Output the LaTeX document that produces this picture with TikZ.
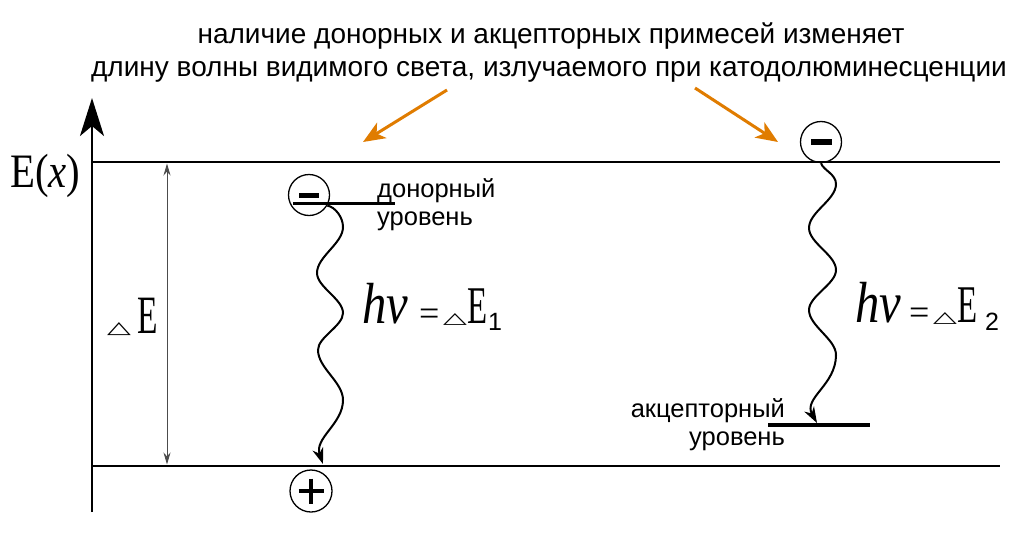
\documentclass[tikz,border=0pt]{standalone}
\usepackage{fontspec}
\usepackage{graphicx}
\newfontfamily\sans{Liberation Sans}
\newfontfamily\ser{Liberation Serif}
\newfontfamily\dv{DejaVu Sans}
\usetikzlibrary{arrows.meta,calc}
\definecolor{orng}{RGB}{224,124,0}
\begin{document}
\begin{tikzpicture}[x=1pt,y=-1pt,
  lvl/.style={line width=2.6pt},
  txt/.style={inner sep=0pt, font=\sans\fontsize{25.5}{25.5}\selectfont},
  ttl/.style={inner sep=0pt, font=\sans\fontsize{28}{28}\selectfont},
  chg/.style={circle, draw, line width=1.3pt, minimum size=41pt, inner sep=0pt},
  wave/.style={line width=2pt, -{Stealth[length=16pt,width=11pt,inset=5pt]}},
  orarr/.style={orng, line width=3pt, -{Stealth[length=22pt,width=18pt,inset=6pt]}},
  sl/.style={inner sep=0pt, anchor=base west},
]
\fill[white] (0,0) rectangle (1024,546);
\useasboundingbox (0,0) rectangle (1024,546);

% axis
\coordinate (ax0) at (92,512);
\coordinate (ax1) at (92,98);
\draw[line width=2.6pt, -{Stealth[length=38pt,width=24pt,inset=10pt]}] (ax0) -- (ax1);

% band edges
\coordinate (c1) at (92,162); \coordinate (c2) at (1000,162);
\coordinate (v1) at (92,466); \coordinate (v2) at (1000,466);
\draw[lvl] (c1) -- (c2);
\draw[lvl] (v1) -- (v2);

% Delta E arrow
\coordinate (dEb) at (167,464.5);
\coordinate (dEt) at (167,163.5);
\draw[line width=1pt, gray!60!black, {Stealth[length=12pt,width=7pt]}-{Stealth[length=12pt,width=7pt]}] (dEb) -- (dEt);

% axis label
\node[sl] (Ex) at (10,187) {\ser\fontsize{48}{48}\selectfont\scalebox{0.85}[1]{E(\textit{x})}};
\node[sl] (dEtri) at (107,333) {\dv\fontsize{31}{31}\selectfont\scalebox{1}[0.55]{△}};
\node[sl] (dEE) at (137,333) {\ser\fontsize{54}{54}\selectfont\scalebox{0.62}[1]{E}};

% left photon label
\node[sl] (hv1) at (362,323) {\ser\fontsize{58}{58}\selectfont\scalebox{0.84}[1]{\itshape hv}};
\node[sl] (eq1) at (419,325) {\ser\fontsize{36}{36}\selectfont =};
\node[sl] (tri1) at (443,323) {\dv\fontsize{31}{31}\selectfont\scalebox{1}[0.5]{△}};
\node[sl] (E1) at (467,323) {\ser\fontsize{53}{53}\selectfont\scalebox{0.62}[1]{E}};
\node[sl] (s1) at (488,330) {\sans\fontsize{25}{25}\selectfont 1};

% right photon label
\node[sl] (hv2) at (855,322) {\ser\fontsize{58}{58}\selectfont\scalebox{0.84}[1]{\itshape hv}};
\node[sl] (eq2) at (909,324) {\ser\fontsize{36}{36}\selectfont =};
\node[sl] (tri2) at (933,322) {\dv\fontsize{31}{31}\selectfont\scalebox{1}[0.5]{△}};
\node[sl] (E2) at (957,322) {\ser\fontsize{53}{53}\selectfont\scalebox{0.62}[1]{E}};
\node[sl] (s2) at (985,330) {\sans\fontsize{25}{25}\selectfont 2};

% charges
\node[chg] (m1) at (309,195) {\rule[-2.5pt]{20pt}{5pt}};
\node[chg] (m2) at (821,142) {\rule[-3pt]{21pt}{6pt}};
\node[chg, minimum size=42pt] (p1) at (311,491) {};
\draw[line width=3.5pt] ($(p1)+(-12.5,0)$) -- ($(p1)+(12.5,0)$);
\draw[line width=3.5pt] ($(p1)+(0,-12.5)$) -- ($(p1)+(0,12.5)$);

% impurity levels
\coordinate (dl1) at (293,203); \coordinate (dl2) at (395,203);
\draw[line width=3pt] (dl1) -- (dl2);
\coordinate (al1) at (768,425); \coordinate (al2) at (870,425);
\draw[line width=3.5pt] (al1) -- (al2);

% photon waves
\coordinate (w1e) at (323,464);
\draw[wave] (m1.-30) .. controls (335,207) and (343,217) .. (343,227)
  .. controls (343,243.5) and (317,256.5) .. (317,273)
  .. controls (317,287) and (343,299) .. (343,313)
  .. controls (343,326) and (318,337) .. (318,350)
  .. controls (318,368) and (343,382) .. (343,400)
  .. controls (343,424) and (314,438) .. (w1e);
\coordinate (w2e) at (817,423);
\draw[wave] (m2.south) .. controls (823,170) and (836,174) .. (836,184)
  .. controls (836,200) and (809,212) .. (809,228)
  .. controls (809,243) and (836,255) .. (836,270)
  .. controls (836,284) and (809,296) .. (809,310)
  .. controls (809,326) and (836,339) .. (836,355)
  .. controls (836,385) and (803,398) .. (w2e);

% level labels
\node[txt, anchor=base west] (don1) at (377,197) {донорный};
\node[txt, anchor=base west] (don2) at (377,225) {уровень};
\node[txt, anchor=base east] (acc1) at (785,417) {акцепторный};
\node[txt, anchor=base east] (acc2) at (785,445) {уровень};

% title
\node[ttl, anchor=base] (t1) at (551,43) {наличие донорных и акцепторных примесей изменяет};
\node[ttl, anchor=base] (t2) at (549,76) {длину волны видимого света, излучаемого при катодолюминесценции};

% orange pointers
\coordinate (o1a) at (447,90); \coordinate (o1b) at (363,142);
\coordinate (o2a) at (695,88); \coordinate (o2b) at (778,142);
\draw[orarr] (o1a) -- (o1b);
\draw[orarr] (o2a) -- (o2b);
\end{tikzpicture}
\end{document}
